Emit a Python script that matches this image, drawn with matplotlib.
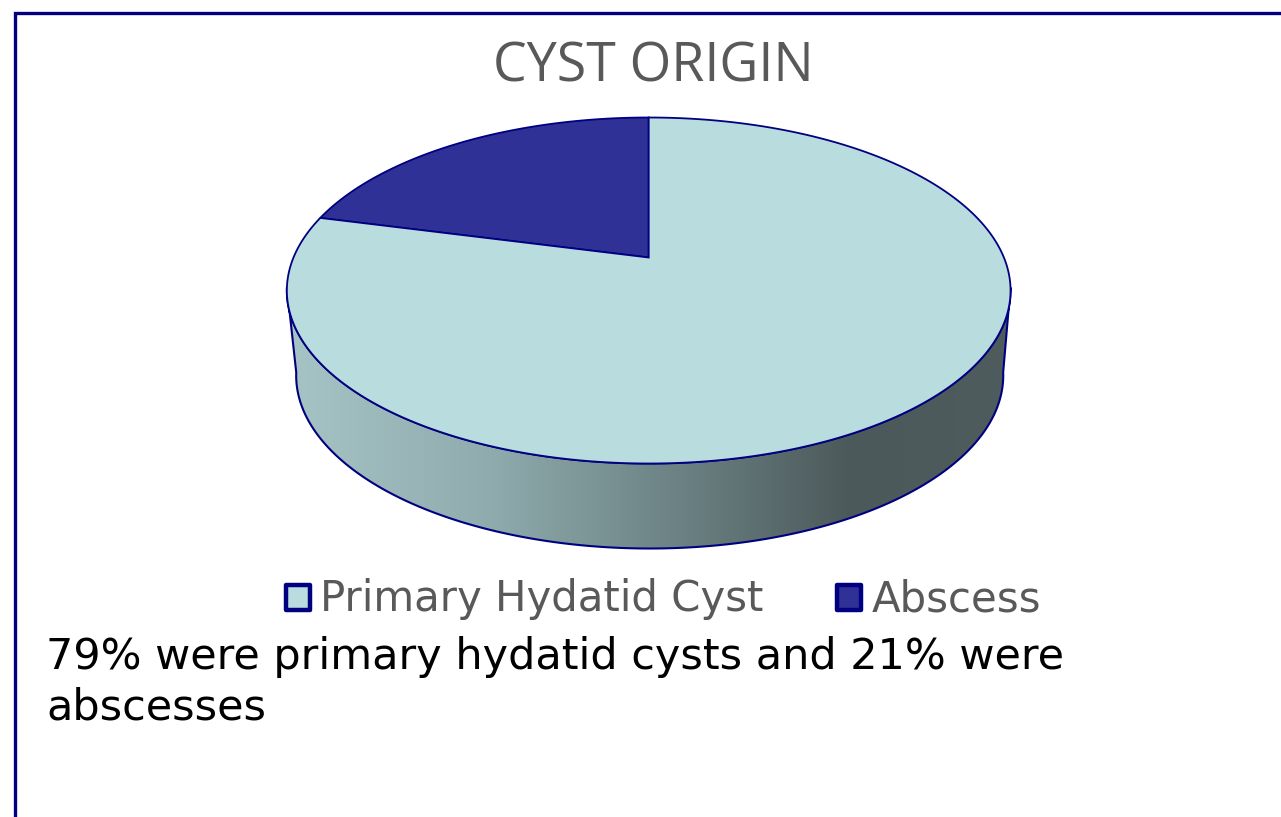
import numpy as np
import matplotlib
matplotlib.use("Agg")
import matplotlib.pyplot as plt
from matplotlib.patches import Polygon, Rectangle
from matplotlib.colors import LinearSegmentedColormap

W, H = 1281, 817
title = "CYST ORIGIN"
categories = ["Primary Hydatid Cyst", "Abscess"]
values = [79, 21]
colors = ["#b9dcdf", "#303197"]
caption = ["79% were primary hydatid cysts and 21% were", "abscesses"]
navy = "#000080"
grey = "#595959"

fig = plt.figure(figsize=(W / 100, H / 100), dpi=100)
ax = fig.add_axes([0, 0, 1, 1])
ax.set_xlim(0, W)
ax.set_ylim(H, 0)
ax.axis("off")

# frame
ax.plot([15, 15, W + 5], [H + 5, 13, 13], color=navy, lw=2.4, solid_joinstyle="miter")

# perspective pie projection
cx, cy = 648.7, 257.5
persp = 0.1908
a, b = 166.7, 355.2


def project(theta, dy=0.0, sx=1.0, ox=0.0):
    u, v = np.sin(theta), np.cos(theta)
    d = 1 + persp * v
    return cx + ox + sx * b * u / d, cy + dy - a * v / d


# side wall
depth, sx, ox = 85.0, 0.977, 1.0
th_top = np.radians(np.linspace(100, 260, 300))
xt, yt = project(th_top)
th_bot = np.radians(np.linspace(260, 100, 300))
xb, yb = project(th_bot, depth, sx, ox)
wall = Polygon(np.column_stack([np.r_[xt, xb], np.r_[yt, yb]]), closed=True,
               facecolor="none", edgecolor=navy, lw=1.5, zorder=3)
cmap = LinearSegmentedColormap.from_list(
    "wall", [(0, "#a6c3c5"), (0.28, "#8fabad"), (0.55, "#6a8082"), (0.78, "#4c595a"), (1, "#4e5c5d")])
img = ax.imshow(np.linspace(0, 1, 512)[None, :], extent=(290, 1010, 560, 280), cmap=cmap,
                aspect="auto", zorder=2)
ax.add_patch(wall)
img.set_clip_path(wall)
ax.set_xlim(0, W)
ax.set_ylim(H, 0)

# top surface: counter-clockwise from 12 o'clock, abscess first, then the cyst
for val, col, st in zip(values[::-1], colors[::-1], [0.0, values[1] / sum(values)]):
    span = val / sum(values)
    th = -2 * np.pi * np.linspace(st, st + span, 400)
    x, y = project(th)
    ax.add_patch(Polygon(np.column_stack([np.r_[cx, x], np.r_[cy, y]]), closed=True,
                         facecolor=col, edgecolor=navy, lw=1.3, zorder=4))

# legend
leg_x = [284, 835]
txt_x = [320, 872]
for c, col, bx, tx in zip(categories, colors, leg_x, txt_x):
    ax.add_patch(Rectangle((bx + 1.5, 584.5), 24, 25, facecolor=col, edgecolor=navy, lw=3.2, zorder=5,
                           joinstyle="round"))
    ax.text(tx, 599, c, fontsize=30.2, color=grey, family="DejaVu Sans", va="center", ha="left")

ax.text(653, 67, title, fontsize=38.6, color=grey, family="Open Sans", va="center", ha="center")
ax.text(46, 657, caption[0], fontsize=31, color="black", family="DejaVu Sans", va="center", ha="left")
ax.text(46, 708, caption[1], fontsize=31, color="black", family="DejaVu Sans", va="center", ha="left")

fig.savefig("out.png", dpi=100, facecolor="white")
